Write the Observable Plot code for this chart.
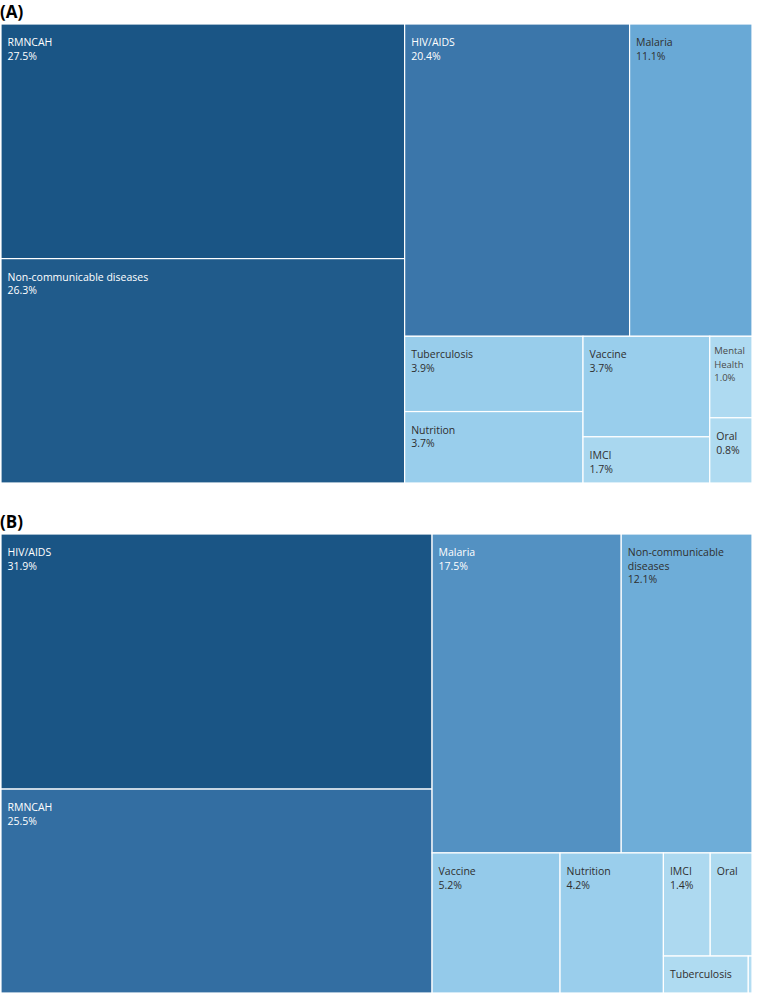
<!DOCTYPE html>
<html>
<head>
<meta charset="utf-8">
<script src="https://cdn.jsdelivr.net/npm/d3@7"></script>
<script src="https://cdn.jsdelivr.net/npm/@observablehq/plot@0.6"></script>
<style>
  html, body { margin: 0; padding: 0; background: #fff; }
  body { width: 758px; height: 995px; position: relative; overflow: hidden; font-family: "Open Sans", sans-serif; }
  .title { position: absolute; left: 0; font-weight: 700; font-size: 17px; line-height: 20px; color: #000; }
  .chart { position: absolute; left: 0; }
</style>
</head>
<body>
<div class="title" style="top:2px">(A)</div>
<div class="chart" id="chartA" style="top:23px"></div>
<div class="title" style="top:512px">(B)</div>
<div class="chart" id="chartB" style="top:533px"></div>
<script>
// ---------- Data (A) ----------
const namesA  = ["RMNCAH", "Non-communicable diseases", "HIV/AIDS", "Malaria", "Tuberculosis", "Nutrition", "Vaccine", "IMCI", "Mental Health", "Oral"];
const valuesA = [27.5, 26.3, 20.4, 11.1, 3.9, 3.7, 3.7, 1.7, 1.0, 0.8];
// nesting of the treemap (Tableau's arrangement)
const groupsA = ["L", "L", "R/T", "R/T", "R/B/1", "R/B/1", "R/B/2", "R/B/2", "R/B/3", "R/B/3"];
const hidePctA = [];

// ---------- Data (B) ----------
const namesB  = ["HIV/AIDS", "RMNCAH", "Malaria", "Non-communicable diseases", "Vaccine", "Nutrition", "IMCI", "Oral", "Tuberculosis", "Mental Health"];
const valuesB = [31.9, 25.5, 17.5, 12.1, 5.2, 4.2, 1.4, 1.25, 0.91, 0.04];
const groupsB = ["L", "L", "R/T", "R/T", "R/B", "R/B", "R/B/G/1", "R/B/G/1", "R/B/G/2", "R/B/G/2"];
const hidePctB = ["Oral", "Tuberculosis"];

// colour ramp stops (share of the largest value)
const colorStops = [0, 0.05, 0.15, 0.4, 0.55, 0.77, 1];
const colorRange = ["#b3ddf2", "#acd9f0", "#96cceb", "#6aaad6", "#5391c2", "#3772a6", "#1a5585"];

const FONT = "'Open Sans', sans-serif";
const canvas = document.createElement("canvas");
const ctx = canvas.getContext("2d");

function wrap(text, maxW, size) {
  ctx.font = `${size}px ${FONT}`;
  const words = text.split(" ");
  const lines = [];
  let cur = "";
  for (const w of words) {
    const test = cur ? cur + " " + w : w;
    if (ctx.measureText(test).width > maxW && cur) { lines.push(cur); cur = w; }
    else cur = test;
  }
  if (cur) lines.push(cur);
  return lines;
}

function layout(names, values, groups, hidePct) {
  const root = {name: "root", children: []};
  names.forEach((n, i) => {
    let node = root;
    for (const g of groups[i].split("/")) {
      let c = node.children.find(d => d.name === g && d.children);
      if (!c) { c = {name: g, children: []}; node.children.push(c); }
      node = c;
    }
    node.children.push({name: n, value: values[i]});
  });
  const h = d3.hierarchy(root).sum(d => d.value || 0);
  d3.treemap().tile(d3.treemapSliceDice).size([1, 1]).round(false)(h);
  const max = d3.max(values);
  return h.leaves().map(l => ({
    name: l.data.name,
    value: l.data.value,
    t: l.data.value / max,
    x0: l.x0, x1: l.x1, y0: l.y0, y1: l.y1,
    pct: hidePct.includes(l.data.name) ? "" : l.data.value.toFixed(1) + "%"
  }));
}

function draw(rows, el) {
  const W = 758, H = 461, mL = 1, mR = 6, mT = 1, mB = 1;
  const iw = W - mL - mR;
  const FS = 10.5;
  rows.forEach(r => {
    const pw = (r.x1 - r.x0) * iw;
    if (pw < 20) { r.label = ""; r.small = false; return; }
    let lines = wrap(r.name, pw - 12, FS);
    r.small = lines.length > 1 && pw < 50;
    if (r.small) lines = wrap(r.name, pw - 6, 9.5);
    if (r.pct) lines.push(r.pct);
    r.label = lines.join("\n");
  });
  const chart = Plot.plot({
    width: W, height: H,
    marginLeft: mL, marginRight: mR, marginTop: mT, marginBottom: mB,
    x: {domain: [0, 1], axis: null},
    y: {domain: [0, 1], reverse: true, axis: null},
    color: {type: "linear", domain: colorStops, range: colorRange},
    style: {fontFamily: FONT, background: "white"},
    marks: [
      Plot.rect(rows, {x1: "x0", x2: "x1", y1: "y0", y2: "y1", fill: "t", stroke: "white", strokeWidth: 1.2}),
      Plot.text(rows.filter(r => !r.small), {
        x: "x0", y: "y0", text: "label", textAnchor: "start", lineAnchor: "top",
        dx: 6, dy: 12, fontSize: FS, lineHeight: 1.3,
        fill: d => d.t > 0.5 ? "white" : "#2f2f2f"
      }),
      Plot.text(rows.filter(r => r.small), {
        x: "x0", y: "y0", text: "label", textAnchor: "start", lineAnchor: "top",
        dx: 4, dy: 8, fontSize: 9.5, lineHeight: 1.4,
        fill: "#4a4a4a"
      })
    ]
  });
  document.getElementById(el).appendChild(chart);
}

draw(layout(namesA, valuesA, groupsA, hidePctA), "chartA");
draw(layout(namesB, valuesB, groupsB, hidePctB), "chartB");
</script>
</body>
</html>
